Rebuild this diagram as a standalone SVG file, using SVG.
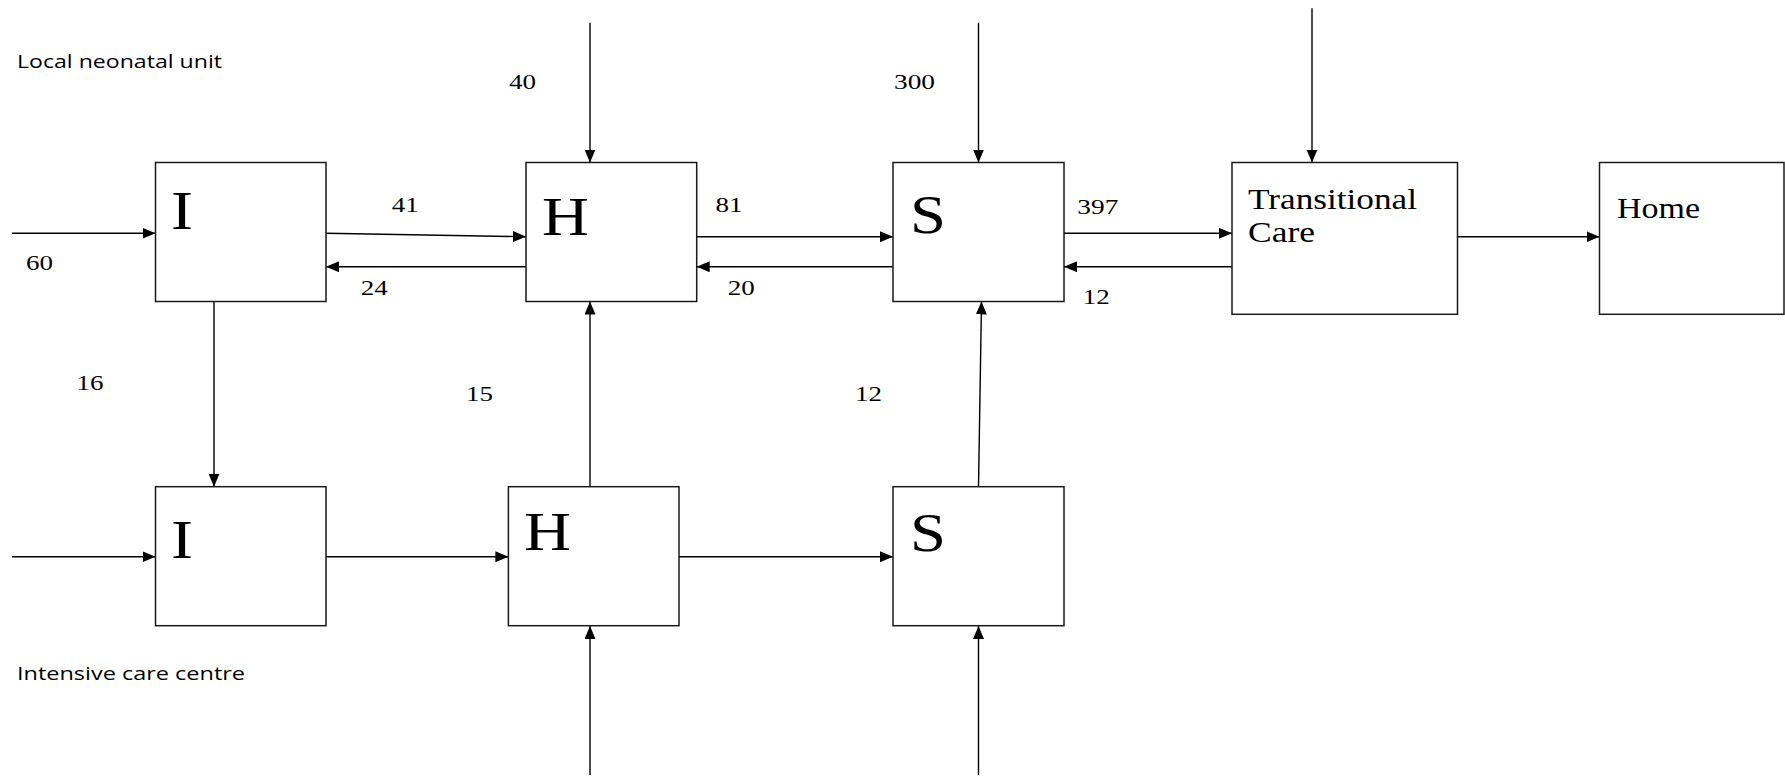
<svg xmlns="http://www.w3.org/2000/svg" width="1785" height="776" viewBox="0 0 1785 776">
<style>
.box{fill:#fff;stroke:#1a1a1a;stroke-width:1.5}
.ln{fill:none;stroke:#000;stroke-width:1.4;marker-end:url(#ah)}
.big{font-family:"Liberation Serif","Times New Roman",serif;font-size:55px;fill:#000}
.lbl{font-family:"Liberation Serif","Times New Roman",serif;font-size:30px;fill:#000}
.num{font-family:"Liberation Serif","Times New Roman",serif;font-size:22px;fill:#000}
.sans{font-family:"Open Sans","Noto Sans","DejaVu Sans",sans-serif;font-size:18.5px;fill:#000}
</style>
<defs>
<marker id="ah" markerUnits="userSpaceOnUse" markerWidth="14" markerHeight="12" refX="13" refY="5.5" orient="auto">
<path d="M0,0 L13,5.5 L0,11 z" fill="#000"/>
</marker>
</defs>
<rect width="1785" height="776" fill="#fff"/>
<g id="region-labels">
<text class="sans" x="17" y="68" textLength="205" lengthAdjust="spacingAndGlyphs">Local neonatal unit</text>
<text class="sans" x="17" y="680" textLength="228" lengthAdjust="spacingAndGlyphs">Intensive care centre</text>
</g>
<g id="connectors">
<line class="ln" x1="12" y1="233.3" x2="155.5" y2="233.3"/>
<line class="ln" x1="326" y1="233.3" x2="526" y2="236.7"/>
<line class="ln" x1="526" y1="266.7" x2="326" y2="266.7"/>
<line class="ln" x1="590" y1="22.7" x2="590" y2="162.5"/>
<line class="ln" x1="696.7" y1="236.7" x2="893" y2="236.7"/>
<line class="ln" x1="893" y1="266.7" x2="696.7" y2="266.7"/>
<line class="ln" x1="978.5" y1="22.7" x2="978.5" y2="162.5"/>
<line class="ln" x1="1064" y1="233.3" x2="1232" y2="233.3"/>
<line class="ln" x1="1232" y1="266.7" x2="1064" y2="266.7"/>
<line class="ln" x1="1312" y1="8.3" x2="1312" y2="162.5"/>
<line class="ln" x1="1457.5" y1="236.7" x2="1599.5" y2="236.7"/>
<line class="ln" x1="214" y1="301.5" x2="214" y2="486.7"/>
<line class="ln" x1="590" y1="486.7" x2="590" y2="301.5"/>
<line class="ln" x1="978.5" y1="486.7" x2="981.5" y2="301.5"/>
<line class="ln" x1="12" y1="556.7" x2="155.5" y2="556.7"/>
<line class="ln" x1="326" y1="556.7" x2="508.4" y2="556.7"/>
<line class="ln" x1="679" y1="556.7" x2="893" y2="556.7"/>
<line class="ln" x1="590" y1="775" x2="590" y2="626"/>
<line class="ln" x1="978.5" y1="775" x2="978.5" y2="626"/>
</g>
<g id="connector-labels">
<text class="num" x="26" y="270" textLength="27" lengthAdjust="spacingAndGlyphs">60</text>
<text class="num" x="391.7" y="211.7" textLength="27" lengthAdjust="spacingAndGlyphs">41</text>
<text class="num" x="360.7" y="295" textLength="27" lengthAdjust="spacingAndGlyphs">24</text>
<text class="num" x="509" y="89.3" textLength="27" lengthAdjust="spacingAndGlyphs">40</text>
<text class="num" x="715.5" y="212" textLength="27" lengthAdjust="spacingAndGlyphs">81</text>
<text class="num" x="727.7" y="295" textLength="27" lengthAdjust="spacingAndGlyphs">20</text>
<text class="num" x="894" y="89.3" textLength="41" lengthAdjust="spacingAndGlyphs">300</text>
<text class="num" x="1077.3" y="214" textLength="41" lengthAdjust="spacingAndGlyphs">397</text>
<text class="num" x="1082.7" y="304" textLength="27" lengthAdjust="spacingAndGlyphs">12</text>
<text class="num" x="76.5" y="390" textLength="27" lengthAdjust="spacingAndGlyphs">16</text>
<text class="num" x="466" y="401" textLength="27" lengthAdjust="spacingAndGlyphs">15</text>
<text class="num" x="855" y="401" textLength="27" lengthAdjust="spacingAndGlyphs">12</text>
</g>
<g id="local-I">
<rect class="box" x="155.5" y="162.5" width="170.5" height="139"/>
<text class="big" x="171" y="229" textLength="22" lengthAdjust="spacingAndGlyphs">I</text>
</g>
<g id="local-H">
<rect class="box" x="526" y="162.5" width="170.7" height="139"/>
<text class="big" x="542" y="235" textLength="47" lengthAdjust="spacingAndGlyphs">H</text>
</g>
<g id="local-S">
<rect class="box" x="893" y="162.5" width="171" height="139"/>
<text class="big" x="910" y="233" textLength="36" lengthAdjust="spacingAndGlyphs">S</text>
</g>
<g id="transitional-care">
<rect class="box" x="1232" y="162.5" width="225.5" height="151.8"/>
<text class="lbl" x="1248" y="208.5" textLength="169" lengthAdjust="spacingAndGlyphs">Transitional</text>
<text class="lbl" x="1248" y="241.7" textLength="67" lengthAdjust="spacingAndGlyphs">Care</text>
</g>
<g id="home">
<rect class="box" x="1599.5" y="162.5" width="184.5" height="151.8"/>
<text class="lbl" x="1617" y="217.5" textLength="83" lengthAdjust="spacingAndGlyphs">Home</text>
</g>
<g id="icc-I">
<rect class="box" x="155.5" y="486.7" width="170.5" height="139"/>
<text class="big" x="171" y="557.5" textLength="22" lengthAdjust="spacingAndGlyphs">I</text>
</g>
<g id="icc-H">
<rect class="box" x="508.4" y="486.7" width="170.6" height="139"/>
<text class="big" x="524" y="550" textLength="47" lengthAdjust="spacingAndGlyphs">H</text>
</g>
<g id="icc-S">
<rect class="box" x="893" y="486.7" width="171" height="139"/>
<text class="big" x="910" y="550.7" textLength="36" lengthAdjust="spacingAndGlyphs">S</text>
</g>
</svg>
